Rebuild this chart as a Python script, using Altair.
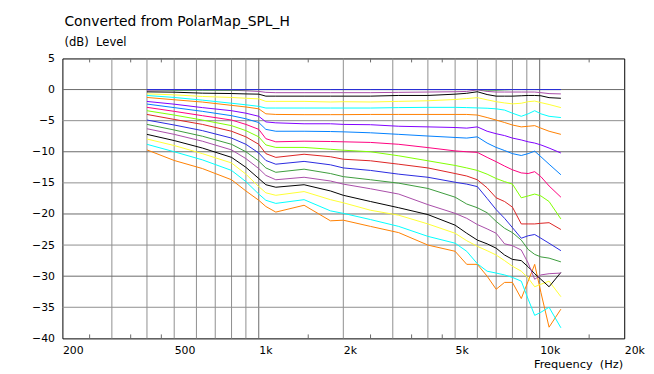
import altair as alt
import pandas as pd

# Frequency points (Hz) shared by all curves
FREQ = [400, 500, 630, 800, 900, 1000, 1060, 1150, 1450, 1800, 2000,
        2500, 3150, 4000, 5000, 5500, 6000, 6500, 7000, 7500, 8000,
        8600, 9100, 9600, 10100, 10800, 11900]

# Level (dB) per horizontal angle
D00 = [0, 0, 0, 0, 0, 0, 0, 0, 0, 0, 0,
       0, 0, 0, 0, 0, 0, 0, 0, 0, 0, 0, 0, 0, 0, 0, 0]
D05 = [0, -0.1, -0.1, -0.1, -0.05, 0, 0, 0, 0, 0, 0,
       0, 0, 0, 0, 0, 0, -0.1, -0.1, -0.05, 0, 0, 0, 0, 0, 0, 0]
D10 = [-0.1, -0.05, -0.05, -0.1, -0.2, -0.3, -0.45, -0.5, -0.5, -0.5, -0.5,
       -0.5, -0.45, -0.4, -0.35, -0.3, -0.05, -0.3, -0.4, -0.4, -0.4, -0.4, -0.4, -0.4, -0.5, -0.65, -0.7]
D15 = [-0.37, -0.42, -0.58, -0.64, -0.7, -0.74, -1.06, -1.06, -1.06, -1.06, -1.06,
       -1.06, -0.95, -0.95, -0.74, -0.6, -0.35, -0.8, -1.06, -1.06, -1.06, -1.0, -0.95, -0.95, -1.0, -1.3, -1.4]
D20 = [-0.69, -0.85, -1.11, -1.27, -1.4, -1.5, -1.9, -1.9, -1.9, -2.0, -1.95,
       -2.0, -1.9, -1.8, -1.6, -1.45, -1.3, -1.65, -1.95, -2.15, -2.3, -2.2, -1.95, -1.85, -2.1, -2.4, -2.9]
D25 = [-0.95, -1.27, -1.7, -2.2, -2.45, -2.7, -2.97, -2.97, -2.97, -2.97, -2.97,
       -2.97, -2.9, -2.86, -2.86, -2.9, -2.95, -3.0, -3.1, -3.3, -3.8, -4.3, -3.9, -3.4, -3.9, -4.3, -4.5]
D30 = [-1.27, -1.64, -2.01, -2.54, -2.8, -3.1, -3.9, -4.0, -4.03, -4.03, -4.03,
       -4.0, -4.0, -4.0, -4.0, -4.0, -4.1, -4.5, -4.9, -5.3, -5.7, -6.0, -5.9, -5.8, -6.2, -6.7, -7.2]
D35 = [-1.91, -2.35, -2.9, -3.4, -3.8, -4.3, -5.2, -5.35, -5.5, -5.5, -5.6,
       -5.65, -5.9, -6.0, -6.1, -6.2, -6.0, -6.7, -7.1, -7.4, -7.8, -8.1, -8.4, -8.6, -8.9, -9.4, -10.2]
D40 = [-2.33, -2.9, -3.5, -4.2, -4.7, -5.3, -6.4, -6.7, -6.7, -6.75, -6.8,
       -6.95, -7.2, -7.47, -7.7, -7.8, -7.6, -8.6, -9.3, -9.8, -10.3, -10.6, -10.3, -9.9, -10.8, -12.0, -13.7]
D45 = [-2.86, -3.5, -4.2, -4.9, -5.6, -6.4, -7.9, -8.4, -8.3, -8.35, -8.4,
       -8.5, -8.8, -9.33, -9.86, -10.0, -10.1, -10.9, -11.6, -12.3, -12.9, -13.4, -13.5, -13.2, -14.0, -15.5, -17.3]
D50 = [-3.4, -4.1, -4.9, -5.8, -6.6, -7.6, -8.9, -9.3, -9.3, -9.6, -9.75,
       -10.0, -10.65, -11.45, -12.2, -12.6, -13.0, -13.6, -14.3, -14.8, -15.2, -17.4, -17.1, -16.8, -17.1, -18.0, -20.8]
D55 = [-4.0, -4.8, -5.6, -6.7, -7.6, -8.8, -10.3, -10.9, -10.4, -10.8, -11.2,
       -11.45, -12.0, -12.6, -13.5, -13.9, -14.5, -15.8, -17.4, -18.0, -18.9, -21.6, -21.6, -21.6, -21.5, -21.4, -22.5]
D60 = [-4.9, -5.7, -6.6, -7.8, -8.8, -10.2, -11.4, -12.0, -11.55, -12.1, -12.6,
       -13.0, -13.6, -14.1, -14.9, -15.2, -15.6, -17.5, -19.3, -20.7, -22.2, -23.9, -23.5, -23.3, -23.9, -24.7, -25.9]
D65 = [-5.6, -6.5, -7.5, -8.8, -10.0, -11.5, -12.6, -13.3, -12.8, -13.5, -14.0,
       -14.5, -15.05, -15.9, -17.3, -18.4, -19.0, -19.8, -21.2, -22.3, -23.0, -24.2, -25.7, -26.5, -26.9, -27.1, -27.7]
D70 = [-6.3, -7.2, -8.3, -9.7, -11.1, -12.7, -13.8, -14.5, -14.1, -14.7, -15.2,
       -15.95, -16.8, -18.5, -19.9, -20.7, -21.7, -22.4, -23.1, -24.8, -25.1, -25.8, -27.9, -30.5, -29.8, -29.6, -29.5]
D75 = [-7.2, -8.2, -9.4, -10.9, -12.5, -14.3, -15.3, -15.7, -15.3, -16.3, -17.0,
       -18.0, -19.0, -20.1, -21.8, -23.1, -24.2, -24.8, -25.5, -26.6, -27.3, -27.5, -28.5, -29.6, -30.5, -31.7, -29.4]
D80 = [-7.95, -9.0, -10.3, -11.8, -13.6, -15.6, -16.6, -17.0, -16.4, -17.7, -18.2,
       -19.4, -20.2, -21.6, -23.1, -24.3, -25.2, -25.9, -26.6, -27.5, -28.4, -29.2, -30.3, -31.7, -31.3, -30.8, -33.3]
D85 = [-8.8, -10.0, -11.3, -13.0, -14.8, -16.8, -17.8, -18.3, -17.7, -19.5, -19.9,
       -20.9, -22.0, -23.6, -24.7, -26.0, -28.0, -29.2, -29.5, -29.8, -30.2, -30.8, -33.7, -36.3, -35.8, -35.0, -38.3]
D90 = [-9.7, -11.4, -12.7, -14.5, -16.3, -17.8, -18.8, -19.7, -18.6, -21.1, -21.0,
       -22.0, -23.0, -25.0, -26.0, -28.1, -28.1, -30.0, -32.1, -31.0, -31.0, -33.6, -30.8, -28.1, -32.6, -38.2, -35.3]

CURVES = ["0", "5", "10", "15", "20", "25", "30", "35", "40", "45",
          "50", "55", "60", "65", "70", "75", "80", "85", "90"]
SERIES = [D00, D05, D10, D15, D20, D25, D30, D35, D40, D45,
          D50, D55, D60, D65, D70, D75, D80, D85, D90]
COLORS = ["#2828e0", "#3c9c3c", "#a84ca8", "#000000", "#ffff33", "#00ffff",
          "#ff8000", "#8000ff", "#0080ff", "#ff0080", "#80ff00", "#dd2222",
          "#2828e0", "#3c9c3c", "#a84ca8", "#000000", "#ffff33", "#00ffff", "#ff8000"]

# grid / tick positions
X_MINOR = [300, 400, 500, 600, 700, 800, 900, 2000, 3000, 4000, 5000, 6000, 7000, 8000, 9000]
X_MAJOR = [1000, 10000]
X_SHORT = [250, 350, 450, 1500, 2500, 3500, 4500, 15000]
Y_MINOR = [-35, -25, -15, -5]
Y_MAJOR = [-30, -20, -10, 0]
X_LABELS = [200, 500, 1000, 2000, 5000, 10000, 20000]
Y_LABELS = [-40, -35, -30, -25, -20, -15, -10, -5, 0, 5]

W, H = 568, 283
FONT = "DejaVu Sans"
NB = "\u00a0"

rows = []
# reversed so the 0-degree curve is painted last (on top)
for name, vals in reversed(list(zip(CURVES, SERIES))):
    for f, v in zip(FREQ, vals):
        rows.append({"freq": f, "db": v, "curve": name})
df = pd.DataFrame(rows)

xs = alt.Scale(type="log", domain=[200, 20000], nice=False)
ys = alt.Scale(domain=[-40, 5], nice=False, zero=False)

x_axis = alt.Axis(values=X_LABELS, grid=False, ticks=False, domain=False,
                  labelExpr="datum.value >= 1000 ? (datum.value / 1000) + 'k' : datum.value",
                  labelAlign="left", labelBaseline="top", labelPadding=6,
                  labelFont=FONT, labelFontSize=11, labelColor="#000000",
                  labelOverlap=False, labelFlush=False, title=None)
y_axis = alt.Axis(values=Y_LABELS, grid=False, ticks=False, domain=False,
                  labelAlign="right", labelBaseline="middle", labelPadding=8,
                  labelFont=FONT, labelFontSize=11, labelColor="#000000",
                  labelOverlap=False, labelFlush=False, title=None)

XF = lambda field: alt.X(field, scale=xs, axis=x_axis)
YF = lambda field: alt.Y(field, scale=ys, axis=y_axis)

def vrules(vals, color):
    return alt.Chart(pd.DataFrame({"freq": vals})).mark_rule(color=color, strokeWidth=1).encode(
        x=XF("freq:Q"))

def hrules(vals, color):
    return alt.Chart(pd.DataFrame({"db": vals})).mark_rule(color=color, strokeWidth=1).encode(
        y=YF("db:Q"))

grid_minor_x = vrules(X_MINOR, "#8f8f8f")
grid_major_x = vrules(X_MAJOR, "#6a6a6a")
grid_minor_y = hrules(Y_MINOR, "#8f8f8f")
grid_major_y = hrules(Y_MAJOR, "#6a6a6a")

short_df = pd.DataFrame({"freq": X_SHORT})
ticks_bottom = alt.Chart(short_df).mark_rule(color="#6a6a6a").encode(
    x=XF("freq:Q"), y=alt.value(H - 4), y2=alt.value(H))
ticks_top = alt.Chart(short_df).mark_rule(color="#6a6a6a").encode(
    x=XF("freq:Q"), y=alt.value(0), y2=alt.value(4))

lines = alt.Chart(df).mark_line(strokeWidth=1, interpolate="linear").encode(
    x=XF("freq:Q"),
    y=YF("db:Q"),
    color=alt.Color("curve:N", scale=alt.Scale(domain=CURVES, range=COLORS), legend=None),
)

def label(txt, x, y, align="left", size=11):
    return alt.Chart(pd.DataFrame({"t": [txt]})).mark_text(
        align=align, baseline="middle", font=FONT, fontSize=size, color="#000000"
    ).encode(x=alt.value(x), y=alt.value(y), text="t:N")

title1 = label("Converted from PolarMap_SPL_H", 2, -37, size=14)
title2 = label("(dB)" + NB + NB + "Level", 2, -17, size=11.7)
xtitle = label("Frequency" + NB + NB + "(Hz)", W - 1, H + 27, align="right", size=11.5)

chart = alt.layer(
    grid_minor_x, grid_major_x, grid_minor_y, grid_major_y, ticks_bottom, ticks_top,
    lines, title1, title2, xtitle
).properties(
    width=W, height=H,
    autosize=alt.AutoSizeParams(type="none"),
    padding={"left": 55, "top": 49, "right": 22, "bottom": 34},
    background="#ffffff",
).configure_view(stroke="#000000", strokeWidth=1)

chart.save("out.html", embed_options={"renderer": "svg", "actions": False})
